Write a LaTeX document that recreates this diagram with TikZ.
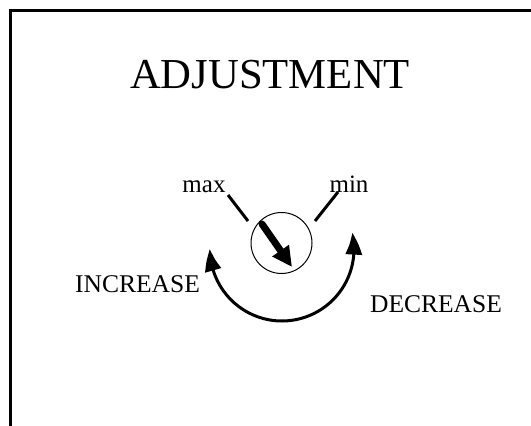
\documentclass[tikz,border=0pt]{standalone}
\usepackage{fontspec}
\setmainfont{Liberation Serif}
\usetikzlibrary{arrows.meta,bending}
\begin{document}
\begin{tikzpicture}[x=1pt,y=-1pt,
  lbl/.style={anchor=base,inner sep=0pt,font=\fontsize{25}{25}\selectfont},
  frameline/.style={line width=3pt,miter limit=10},
  tick/.style={line width=3pt},
  bigarc/.style={line width=3pt,-{Triangle[length=22pt,width=16pt,bend]}},
  needle/.style={line width=7pt,line cap=round,-{Triangle[length=20pt,width=19pt]}}]
\useasboundingbox (0,0) rectangle (531,426);
\fill[white] (0,0) rectangle (531,426);
\draw[frameline] (10,427) -- (10,10) -- (532,10);
\node[anchor=base,inner sep=0pt,font=\fontsize{42.7}{43}\selectfont] (title) at (270,88) {ADJUSTMENT};
\node[lbl] (lmax) at (204,192) {max};
\node[lbl] (lmin) at (349,192) {min};
\node[lbl,font=\fontsize{25.5}{26}\selectfont] (inc) at (137.5,292) {INCREASE};
\node[lbl,font=\fontsize{25.5}{26}\selectfont] (dec) at (436,312) {DECREASE};
\node[draw,circle,line width=1pt,minimum size=61pt,inner sep=0pt] (dial) at (281.5,243) {};
\coordinate (maxa) at (228,195);
\coordinate (maxb) at (248,221);
\coordinate (mina) at (338,192);
\coordinate (minb) at (315,221);
\draw[tick] (maxa) -- (maxb);
\draw[tick] (mina) -- (minb);
\coordinate (ntail) at (262,224);
\coordinate (ntip) at (292,267);
\draw[needle] (ntail) -- (ntip);
\coordinate (arcc) at (282,249);
\draw[bigarc] ([shift={(90:72)}]arcc) arc[start angle=90,end angle=-13,radius=72];
\draw[bigarc] ([shift={(90:72)}]arcc) arc[start angle=90,end angle=180,radius=72];
\end{tikzpicture}
\end{document}
